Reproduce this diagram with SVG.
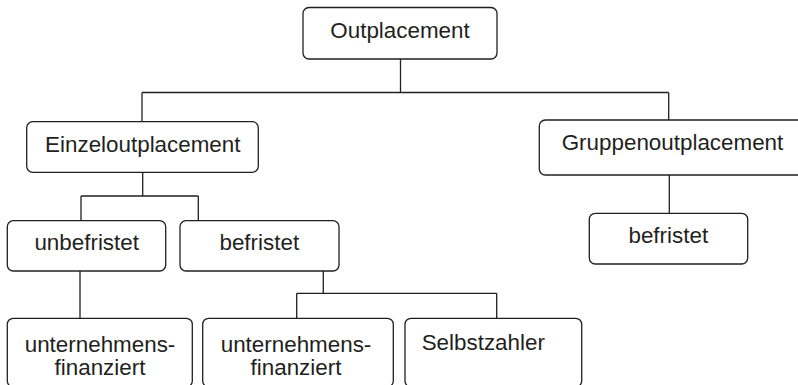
<svg xmlns="http://www.w3.org/2000/svg" width="798" height="385" viewBox="0 0 798 385">
<style>
.box{fill:#fff;stroke:#231f20;stroke-width:1.3}
.t{font-family:"Liberation Sans",Arial,sans-serif;font-size:22.4px;fill:#231f20;text-anchor:middle}
.c{fill:none;stroke:#231f20;stroke-width:1.3}
</style>
<rect width="798" height="385" fill="#fff"/>
<g id="connectors">
<path class="c" d="M400.5 59V92.5M142 92.5H668.7M142 92.5V121.7M668.7 92.5V120"/>
<path class="c" d="M142.7 172.3V196M81 196H198.3M81 196V220.7M198.3 196V220.7"/>
<path class="c" d="M669.3 175V213.3"/>
<path class="c" d="M80 271V318.3"/>
<path class="c" d="M323.3 271V293.3M296.7 293.3H496.7M296.7 293.3V318.3M496.7 293.3V318.3"/>
</g>
<g id="n-outplacement">
<rect class="box" x="303" y="7.5" width="194" height="51.5" rx="6"/>
<text class="t" x="400" y="37.5">Outplacement</text>
</g>
<g id="n-einzel">
<rect class="box" x="26.7" y="121.7" width="231.6" height="50.6" rx="6"/>
<text class="t" x="142.8" y="151.5">Einzeloutplacement</text>
</g>
<g id="n-gruppen">
<rect class="box" x="539.3" y="120" width="270" height="55" rx="6"/>
<text class="t" x="672.5" y="150">Gruppenoutplacement</text>
</g>
<g id="n-unbefristet">
<rect class="box" x="7.3" y="220.7" width="158.4" height="50.3" rx="6"/>
<text class="t" x="86.7" y="250">unbefristet</text>
</g>
<g id="n-befristet1">
<rect class="box" x="180" y="220.7" width="159" height="50.3" rx="6"/>
<text class="t" x="259.3" y="250">befristet</text>
</g>
<g id="n-befristet2">
<rect class="box" x="589.3" y="213.3" width="158.4" height="50.7" rx="6"/>
<text class="t" x="668.3" y="243.3">befristet</text>
</g>
<g id="n-unternehmen1">
<rect class="box" x="7.3" y="318.3" width="185" height="68.7" rx="6"/>
<text class="t" x="100" y="351.7">unternehmens-</text>
<text class="t" x="100" y="375">finanziert</text>
</g>
<g id="n-unternehmen2">
<rect class="box" x="202.7" y="318.3" width="190.6" height="68.7" rx="6"/>
<text class="t" x="296" y="351.7">unternehmens-</text>
<text class="t" x="296" y="375">finanziert</text>
</g>
<g id="n-selbstzahler">
<rect class="box" x="405" y="318.3" width="176.7" height="68.7" rx="6"/>
<text class="t" x="421.7" y="350" style="text-anchor:start">Selbstzahler</text>
</g>
</svg>
